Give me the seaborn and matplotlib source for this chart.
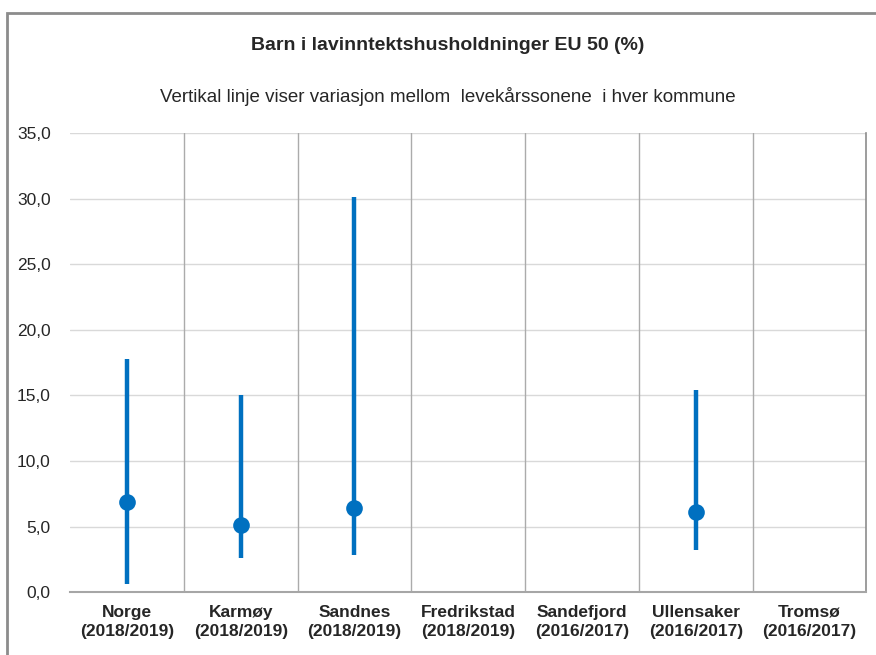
import numpy as np
import pandas as pd
import matplotlib
matplotlib.use("Agg")
import matplotlib.pyplot as plt
import seaborn as sns
from matplotlib.patches import Rectangle
from matplotlib.ticker import FuncFormatter

sns.set_style("white")
plt.rcParams['font.family'] = ['Liberation Sans Narrow', 'Liberation Sans', 'DejaVu Sans']

# data
kommuner = ["Norge", "Karmøy", "Sandnes", "Fredrikstad", "Sandefjord", "Ullensaker", "Tromsø"]
perioder = ["2018/2019", "2018/2019", "2018/2019", "2018/2019", "2016/2017", "2016/2017", "2016/2017"]
hele_kommunen = [6.9, 5.1, 6.4, np.nan, np.nan, 6.1, np.nan]
laveste_sone = [0.6, 2.6, 2.8, np.nan, np.nan, 3.2, np.nan]
hoyeste_sone = [17.8, 15.0, 30.1, np.nan, np.nan, 15.4, np.nan]

labels = [f"{k}\n({p})" for k, p in zip(kommuner, perioder)]
df = pd.DataFrame({"label": pd.Categorical(labels, categories=labels, ordered=True),
                   "verdi": hele_kommunen, "lav": laveste_sone, "hoy": hoyeste_sone})

blue = "#0070C0"

fig = plt.figure(figsize=(8.76, 6.55), dpi=100)
ax = fig.add_axes([0.080, 0.096, 0.909, 0.701])

# range lines (variation between zones)
x_pos = np.arange(len(labels))
ax.vlines(x_pos, df["lav"], df["hoy"], color=blue, linewidth=3.2, zorder=3)
sns.stripplot(data=df, x="label", y="verdi", order=labels, color=blue, size=12,
              jitter=False, linewidth=0, zorder=4, ax=ax, legend=False)

ax.set_xlim(-0.5, len(labels) - 0.5)
ax.set_ylim(0, 35)
ax.set_xticks(x_pos)
ax.set_xticklabels(labels, fontsize=12.5, fontweight="bold", linespacing=1.35)
ax.set_yticks(np.arange(0, 36, 5))
ax.yaxis.set_major_formatter(FuncFormatter(lambda v, p: f"{v:.1f}".replace(".", ",")))
ax.tick_params(axis="y", labelsize=12.5, length=0, pad=14)
ax.tick_params(axis="x", length=0, pad=9)
ax.set_xlabel("")
ax.set_ylabel("")

# grid
for y in np.arange(5, 36, 5):
    ax.axhline(y, color="#d9d9d9", linewidth=1, zorder=1)
for x in np.arange(0.5, len(labels) - 1, 1):
    ax.axvline(x, color="#ababab", linewidth=1, zorder=1)

for side in ["top", "left"]:
    ax.spines[side].set_visible(False)
ax.spines["right"].set_color("#8c8c8c")
ax.spines["right"].set_linewidth(1.2)
ax.spines["bottom"].set_color("#a6a6a6")
ax.spines["bottom"].set_linewidth(1.5)

fig.text(0.511, 0.931, "Barn i lavinntektshusholdninger EU 50 (%)",
         ha="center", va="center", fontsize=14, fontweight="bold")
fig.text(0.511, 0.852, "Vertikal linje viser variasjon mellom  levekårssonene  i hver kommune",
         ha="center", va="center", fontsize=13.5)

fig.patches.append(Rectangle((0.008, -0.02), 1.2, 1 - 13 / 655 + 0.02,
                             transform=fig.transFigure, fill=False,
                             edgecolor="#8c8c8c", linewidth=2))

fig.savefig("out.png", dpi=100)
